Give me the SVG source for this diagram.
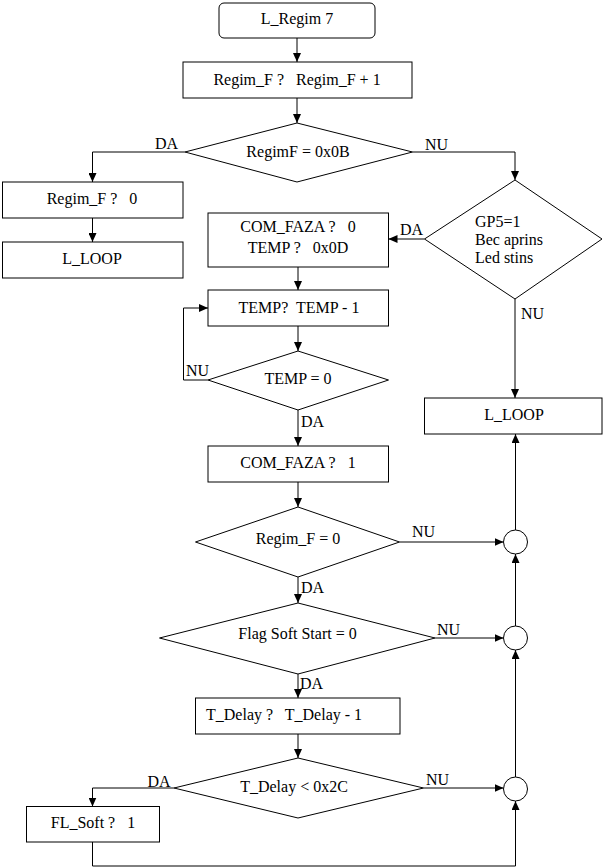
<svg xmlns="http://www.w3.org/2000/svg" width="606" height="868" viewBox="0 0 606 868">
<style>
.s{fill:#fff;stroke:#000;stroke-width:1}
.c{fill:none;stroke:#000;stroke-width:1}
text{font-family:"Liberation Serif","Times New Roman",serif;font-size:16px;fill:#000;white-space:pre}
.m{text-anchor:middle}
</style>
<defs>
<marker id="a" markerUnits="userSpaceOnUse" markerWidth="9" markerHeight="8" refX="9" refY="4" orient="auto">
<path d="M0,0 L9,4 L0,8 z" fill="#000"/>
</marker>
</defs>
<rect width="606" height="868" fill="#fff"/>
<g id="connectors" class="c" marker-end="url(#a)">
<path class="c" marker-end="url(#a)" d="M297,38 V62"/>
<path class="c" marker-end="url(#a)" d="M297,98 V123"/>
<path class="c" marker-end="url(#a)" d="M185,152 H92.5 V182"/>
<path class="c" marker-end="url(#a)" d="M412.5,152 H515 V180"/>
<path class="c" marker-end="url(#a)" d="M92.5,218 V242"/>
<path class="c" marker-end="url(#a)" d="M424.5,239 H388.5"/>
<path class="c" marker-end="url(#a)" d="M298,267 V290"/>
<path class="c" marker-end="url(#a)" d="M298,326 V351"/>
<path class="c" marker-end="url(#a)" d="M208,380 H183.5 V308 H208"/>
<path class="c" marker-end="url(#a)" d="M298,410 V446"/>
<path class="c" marker-end="url(#a)" d="M298,482 V507"/>
<path class="c" marker-end="url(#a)" d="M399.5,542 H503.5"/>
<path class="c" marker-end="url(#a)" d="M515.5,530 V434"/>
<path class="c" marker-end="url(#a)" d="M515,299 V398"/>
<path class="c" marker-end="url(#a)" d="M298,577 V603"/>
<path class="c" marker-end="url(#a)" d="M435,638 H503.5"/>
<path class="c" marker-end="url(#a)" d="M515.5,626 V554"/>
<path class="c" marker-end="url(#a)" d="M298,674 V698"/>
<path class="c" marker-end="url(#a)" d="M298,734 V758"/>
<path class="c" marker-end="url(#a)" d="M174,788 H92.5 V806.5"/>
<path class="c" marker-end="url(#a)" d="M423.5,788 H503.5"/>
<path class="c" marker-end="url(#a)" d="M515.5,777 V650"/>
<path class="c" marker-end="url(#a)" d="M92.5,842 V866 H515.5 V801"/>
</g>
<g id="labels">
<text x="155" y="149">DA</text>
<text x="425" y="150">NU</text>
<text x="400" y="235">DA</text>
<text x="186" y="376">NU</text>
<text x="521" y="319">NU</text>
<text x="301" y="427">DA</text>
<text x="412" y="537">NU</text>
<text x="301" y="593">DA</text>
<text x="437" y="635">NU</text>
<text x="300" y="689">DA</text>
<text x="147.5" y="787">DA</text>
<text x="426" y="785">NU</text>
</g>
<g id="n_start"><rect class="s" x="219" y="3" width="156" height="35" rx="5"/><text class="m" x="297" y="24">L_Regim 7</text></g>
<g id="n_inc"><rect class="s" x="183" y="62" width="229" height="36"/><text class="m" x="297" y="85">Regim_F ?   Regim_F + 1</text></g>
<g id="n_d1"><polygon class="s" points="297,123 412.5,152 297,182 185,152"/><text class="m" x="298" y="157">RegimF = 0x0B</text></g>
<g id="n_reset"><rect class="s" x="2.5" y="182" width="180.5" height="36"/><text class="m" x="92" y="204">Regim_F ?   0</text></g>
<g id="n_loop1"><rect class="s" x="2.5" y="242" width="180.5" height="36"/><text class="m" x="92" y="264">L_LOOP</text></g>
<g id="n_gp5"><polygon class="s" points="515,180 602,239 515,299 424.5,239"/><text x="475" y="227">GP5=1</text><text x="475" y="245">Bec aprins</text><text x="475" y="263">Led stins</text></g>
<g id="n_com0"><rect class="s" x="208" y="213" width="180.5" height="54"/><text class="m" x="298" y="232">COM_FAZA ?   0</text><text class="m" x="298" y="253">TEMP ?   0x0D</text></g>
<g id="n_temp"><rect class="s" x="208" y="290" width="180.5" height="36"/><text class="m" x="299" y="313">TEMP?  TEMP - 1</text></g>
<g id="n_d2"><polygon class="s" points="298,351 388.5,380 298,410 208,380"/><text class="m" x="298" y="384">TEMP = 0</text></g>
<g id="n_com1"><rect class="s" x="208" y="446" width="180.5" height="36"/><text class="m" x="298" y="468">COM_FAZA ?   1</text></g>
<g id="n_d3"><polygon class="s" points="298,507 399.5,542 298,577 195.5,542"/><text class="m" x="298" y="544">Regim_F = 0</text></g>
<g id="n_loop2"><rect class="s" x="424.5" y="398" width="177.5" height="36"/><text class="m" x="514" y="420">L_LOOP</text></g>
<g id="n_d4"><polygon class="s" points="298,603 435,638 298,674 159.5,638"/><text class="m" x="297.5" y="639">Flag Soft Start = 0</text></g>
<g id="n_tdel"><rect class="s" x="195.5" y="698" width="204.5" height="36"/><text x="206" y="720">T_Delay ?   T_Delay - 1</text></g>
<g id="n_d5"><polygon class="s" points="298,758 423.5,788 298,818 174,788"/><text class="m" x="294" y="792">T_Delay &lt; 0x2C</text></g>
<g id="n_fl"><rect class="s" x="26.5" y="806.5" width="133" height="35.5"/><text class="m" x="93" y="828">FL_Soft ?   1</text></g>
<g id="n_j1"><circle class="s" cx="515.5" cy="542" r="12"/></g>
<g id="n_j2"><circle class="s" cx="515.5" cy="638" r="12"/></g>
<g id="n_j3"><circle class="s" cx="515.5" cy="789" r="12"/></g>
</svg>
